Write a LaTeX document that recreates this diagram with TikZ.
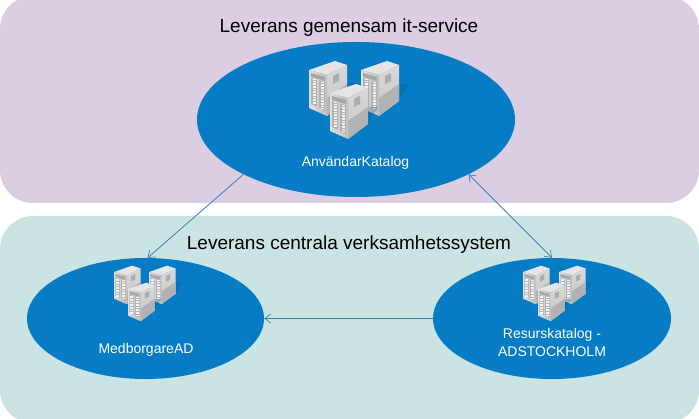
\documentclass[tikz,border=0pt]{standalone}
\usepackage{fontspec}
\setmainfont{Liberation Sans}
\usetikzlibrary{shapes.geometric,arrows.meta}
\definecolor{bandpurple}{HTML}{DBCEE3}
\definecolor{bandteal}{HTML}{C9E4E3}
\definecolor{blobblue}{HTML}{067CC4}
\definecolor{linkblue}{HTML}{3B80B5}
\tikzset{
  x=1pt,y=-1pt,
  barb/.tip={Straight Barb[length=6pt,width=9pt,line width=0.7pt]},
  band/.style={rounded corners=33pt,draw=none},
  blob/.style={ellipse,fill=blobblue,draw=none,inner sep=0pt},
  link/.style={draw=linkblue,line width=0.8pt},
  title/.style={font=\fontsize{19}{22}\selectfont,text=black,inner sep=0pt},
  caption/.style={font=\fontsize{14}{18}\selectfont,text=white,inner sep=0pt,align=center},
  pics/server/.style={code={
    \fill[black!30!blobblue,opacity=.25] (38,14) -- (48,14) -- (38,30) -- cycle;
    \fill[gray!20] (0,0) -- (26,-9) -- (38,-5) -- (18,5) -- cycle;
    \shade[top color=gray!30,bottom color=gray!45] (18,5) -- (38,-5) -- (38,31) -- (18,46) -- cycle;
    \fill[gray!60] (18,28) -- (38,14) -- (38,31) -- (18,46) -- cycle;
    \shade[left color=gray!25,right color=gray!50] (0,0) -- (18,5) -- (18,46) -- (0,38) -- cycle;
    \fill[gray!70] (2,3) -- (16,7) -- (16,11) -- (2,7) -- cycle;
    \fill[gray!60] (2,8) -- (8,10) -- (8,37) -- (2,34) -- cycle;
    \fill[gray!60] (10,10.5) -- (16,12) -- (16,41) -- (10,38) -- cycle;
    \draw[gray!8,line width=3pt,dash pattern=on .8pt off .8pt] (5,9.5) -- (5,35);
    \draw[gray!8,line width=3pt,dash pattern=on .8pt off .8pt] (13,12) -- (13,39);
    \fill[gray!65] (24,6) -- (30,3) -- (30,11) -- (24,14) -- cycle;
  }}
}
\begin{document}
\begin{tikzpicture}
\useasboundingbox (0,0) rectangle (699,419);
\fill[white] (0,0) rectangle (699,419);
\begin{scope}
\clip (0,0) rectangle (699,419);
\fill[band,bandpurple] (0,-4) rectangle (699,203);
\fill[band,bandteal] (0,216) rectangle (699,423);
\end{scope}
\node[blob,minimum width=318pt,minimum height=155pt] (top) at (356,119.5) {};
\node[blob,minimum width=237pt,minimum height=121pt] (left) at (145.5,318.5) {};
\node[blob,minimum width=238pt,minimum height=121pt] (right) at (552,318.5) {};
\node[title] (t1) at (349,27.5) {Leverans gemensam it-service};
\node[title] (t2) at (349,244.5) {Leverans centrala verksamhetssystem};
\node[caption] (c1) at (355.5,163) {AnvändarKatalog};
\node[caption] (c2) at (146,350) {MedborgareAD};
\node[caption] (c3) at (552,342) {Resurskatalog -\\ADSTOCKHOLM};
\pic at (309,70) {server};
\pic at (361,70) {server};
\pic at (330,93) {server};
\pic[scale=.7] at (114,272) {server};
\pic[scale=.7] at (149,272) {server};
\pic[scale=.7] at (128,289) {server};
\pic[scale=.7] at (523,272) {server};
\pic[scale=.7] at (559,272) {server};
\pic[scale=.7] at (538,289) {server};
\draw[link,-{barb}] (top.206) -- (left.88);
\draw[link,{barb}-{barb}] (top.334) -- (right.north);
\draw[link,-{barb}] (right.west) -- (left.east);
\end{tikzpicture}
\end{document}
